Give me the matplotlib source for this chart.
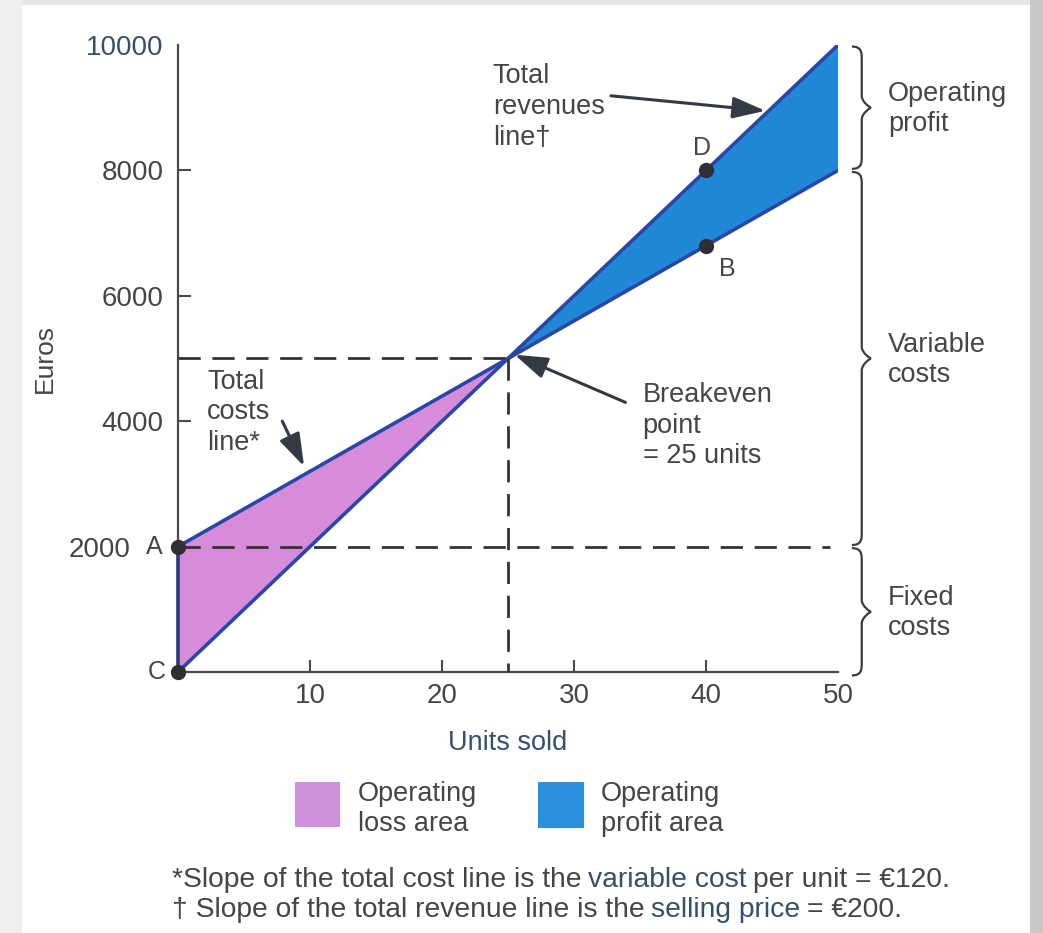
import matplotlib
matplotlib.use("Agg")
import matplotlib.pyplot as plt
from matplotlib.patches import Rectangle, PathPatch
from matplotlib.path import Path
from matplotlib.transforms import ScaledTranslation

# ---- data -------------------------------------------------------------
units = [0, 25, 50]                      # units sold
total_costs = [2000, 5000, 8000]         # fixed 2000 + 120 per unit
total_revenues = [0, 5000, 10000]        # 200 per unit
breakeven_units = 25
breakeven_euros = 5000
fixed_costs = 2000

x_ticks = [10, 20, 30, 40, 50]
x_tick_labels = ["10", "20", "30", "40", "50"]
y_ticks = [2000, 4000, 6000, 8000, 10000]
y_tick_labels = ["2000", "4000", "6000", "8000", "10000"]

point_names = ["A", "B", "C", "D"]
point_x = [0, 40, 0, 40]
point_y = [2000, 6800, 0, 8000]
point_offsets = [(-17, 0), (15, -17), (-15, 0), (-3, 16)]   # label offsets, points

brace_ranges = [(10000, 8000), (8000, 2000), (2000, -80)]
brace_labels = ["Operating\nprofit", "Variable\ncosts", "Fixed\ncosts"]

# ---- style ------------------------------------------------------------
W, H = 1043, 933
TXT = "#454545"
BLUE_TXT = "#34506f"
LOSS = "#d78cda"
PROFIT = "#2088d6"
EDGE = "#2a47a8"
DARK = "#2f2f33"

plt.rcParams["font.family"] = ["Liberation Sans", "DejaVu Sans"]

fig = plt.figure(figsize=(W / 100, H / 100), dpi=100)
fig.patch.set_facecolor("#e6e6e6")


def fx(px):
    return px / W


def fy(py):
    return 1 - py / H


# page background with its soft edges
for rect in [((0, 0), fx(22), 1, "#efefef"),
             ((fx(22), 0), fx(1030) - fx(22), fy(5), "white"),
             ((fx(1030), 0), 1 - fx(1030), 1, "#c9c9c9")]:
    fig.patches.append(Rectangle(rect[0], rect[1], rect[2], transform=fig.transFigure,
                                 facecolor=rect[3], edgecolor="none", zorder=-5))

ax = fig.add_axes([fx(178), fy(672), fx(838) - fx(178), fy(45) - fy(672)])
ax.set_facecolor("none")
ax.set_xlim(0, 50)
ax.set_ylim(0, 10000)

for side in ("top", "right"):
    ax.spines[side].set_visible(False)
for side in ("left", "bottom"):
    ax.spines[side].set_color("#4a4a4a")
    ax.spines[side].set_linewidth(1.6)

ax.set_xticks(x_ticks)
ax.set_xticklabels(x_tick_labels)
ax.set_yticks(y_ticks)
ax.set_yticklabels(y_tick_labels)
ax.tick_params(axis="both", direction="in", length=9, width=1.5, colors="#4a4a4a",
               labelsize=20, labelcolor=TXT)
ax.tick_params(axis="y", pad=10.5)
ax.tick_params(axis="x", pad=8)
ax.xaxis.get_major_ticks()[-1].tick1line.set_visible(False)
ax.yaxis.get_major_ticks()[-1].tick1line.set_visible(False)
ax.get_yticklabels()[-1].set_color(BLUE_TXT)
# shift the 2000 label left to leave room for point A's letter
lab2000 = ax.get_yticklabels()[0]
lab2000.set_transform(lab2000.get_transform() + ScaledTranslation(-0.33, 0, fig.dpi_scale_trans))

ax.set_xlabel("Units sold", fontsize=19.5, color=BLUE_TXT)
ax.xaxis.set_label_coords(0.5, -0.093)
ax.set_ylabel("Euros", fontsize=19, color=TXT)
ax.yaxis.set_label_coords(-0.183, 0.5)

# ---- loss and profit areas -------------------------------------------
ax.fill_between(units[:2], total_revenues[:2], total_costs[:2],
                facecolor=LOSS, edgecolor="none", zorder=2)
ax.fill_between(units[1:], total_costs[1:], total_revenues[1:],
                facecolor=PROFIT, edgecolor="none", zorder=2)
ax.plot(units, total_costs, color=EDGE, lw=2.6, zorder=3, solid_capstyle="round")
ax.plot(units, total_revenues, color=EDGE, lw=2.6, zorder=3, solid_capstyle="round")
ax.plot([units[0], units[0]], [total_revenues[0], total_costs[0]], color="#2c3b78",
        lw=2.6, zorder=3, clip_on=False)

# ---- dashed guide lines ----------------------------------------------
dash_kw = dict(color="#333333", lw=2.0, dashes=(8, 4.2), zorder=4, clip_on=False)
ax.plot([0, breakeven_units], [breakeven_euros, breakeven_euros], **dash_kw)
ax.plot([breakeven_units, breakeven_units], [breakeven_euros, 0], **dash_kw)
ax.plot([0, 49.4], [fixed_costs, fixed_costs], **dash_kw)

# ---- labelled points --------------------------------------------------
ax.plot(point_x, point_y, "o", ms=10, color=DARK, zorder=6, clip_on=False)
for name, px_, py_, off in zip(point_names, point_x, point_y, point_offsets):
    ax.annotate(name, (px_, py_), xytext=off, textcoords="offset points",
                ha="center", va="center", fontsize=18, color=TXT)

# ---- callouts ---------------------------------------------------------
arrow_kw = dict(arrowstyle="-|>,head_length=1.0,head_width=0.33", lw=2.2,
                color="#333a44", shrinkA=0, shrinkB=0, mutation_scale=20)
LS = 1.24
ax.annotate("", xy=(44.5, 8950), xytext=(32.8, 9190), arrowprops=arrow_kw, zorder=5)
ax.text(23.85, 9012, "Total\nrevenues\nline\u2020", ha="left", va="center",
        fontsize=19.5, color=TXT, linespacing=LS)

ax.annotate("", xy=(25.5, 5060), xytext=(33.9, 4300), arrowprops=arrow_kw, zorder=5)
ax.text(35.2, 3930, "Breakeven\npoint\n= 25 units", ha="left", va="center",
        fontsize=19.5, color=TXT, linespacing=LS)

ax.annotate("", xy=(9.55, 3280), xytext=(7.9, 4000), arrowprops=arrow_kw, zorder=5)
ax.text(2.2, 4140, "Total\ncosts\nline*", ha="left", va="center",
        fontsize=19.5, color=TXT, linespacing=LS)


# ---- braces on the right ----------------------------------------------
def brace(y_top, y_bot, x_end=51.05, x_stem=51.8, x_tip=52.5, r=190):
    ym = (y_top + y_bot) / 2
    verts = [
        (x_end, y_top),
        (x_stem - 0.05, y_top), (x_stem, y_top - r * 0.45), (x_stem, y_top - r),
        (x_stem, ym + r),
        (x_stem, ym + r * 0.45), (x_tip - 0.05, ym), (x_tip, ym),
        (x_tip - 0.05, ym), (x_stem, ym - r * 0.45), (x_stem, ym - r),
        (x_stem, y_bot + r),
        (x_stem, y_bot + r * 0.45), (x_stem - 0.05, y_bot), (x_end, y_bot),
    ]
    codes = ([Path.MOVETO] + [Path.CURVE4] * 3 + [Path.LINETO] + [Path.CURVE4] * 6
             + [Path.LINETO] + [Path.CURVE4] * 3)
    ax.add_patch(PathPatch(Path(verts, codes), fill=False, edgecolor="#3c3c3c",
                           lw=1.6, clip_on=False, zorder=5))


for (yt, yb), lab in zip(brace_ranges, brace_labels):
    brace(yt - 25, yb + 25)
    ax.text(53.8, (yt + yb) / 2 - 25, lab, ha="left", va="center", fontsize=19.5,
            color=TXT, linespacing=1.2)

# ---- key --------------------------------------------------------------
fig.patches.append(Rectangle((fx(295), fy(827)), fx(340) - fx(295), fy(782) - fy(827),
                             transform=fig.transFigure, facecolor="#cf90da",
                             edgecolor="none"))
fig.patches.append(Rectangle((fx(538), fy(828)), fx(584) - fx(538), fy(782) - fy(828),
                             transform=fig.transFigure, facecolor="#2a8fdc",
                             edgecolor="none"))
fig.text(fx(358), fy(809), "Operating\nloss area", ha="left", va="center",
         fontsize=19.5, color=TXT, linespacing=1.18)
fig.text(fx(601), fy(809), "Operating\nprofit area", ha="left", va="center",
         fontsize=19.5, color=TXT, linespacing=1.18)

# ---- footnotes --------------------------------------------------------
foot_fs = 20.3


def chain(y_px, pieces, gap=4.6):
    first = fig.text(fx(172), fy(y_px), pieces[0][0], ha="left", va="center",
                     fontsize=foot_fs, color=pieces[0][1])
    prev = first
    for txt, col in pieces[1:]:
        prev = fig.add_artist(plt.Annotation(
            txt, xy=(1, 0), xycoords=prev, xytext=(gap, 0),
            textcoords="offset points", ha="left", va="bottom",
            fontsize=foot_fs, color=col))


chain(880, [("*Slope of the total cost line is the", TXT),
            ("variable cost", BLUE_TXT),
            ("per unit = \u20ac120.", TXT)])
chain(910, [("\u2020 Slope of the total revenue line is the", TXT),
            ("selling price", BLUE_TXT),
            ("= \u20ac200.", TXT)])

fig.savefig("out.png", dpi=100, facecolor=fig.get_facecolor())
